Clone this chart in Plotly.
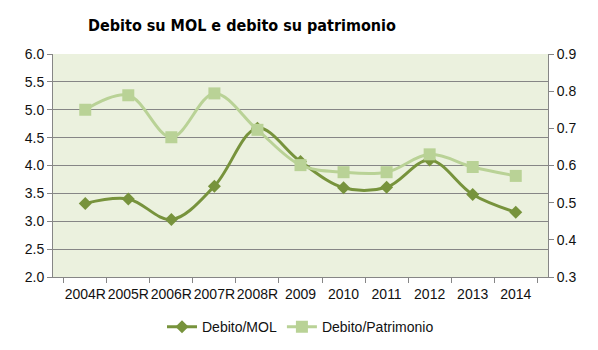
import plotly.graph_objects as go

# Anni e indicatori
anni = ["2004R", "2005R", "2006R", "2007R", "2008R", "2009", "2010", "2011", "2012", "2013", "2014"]
debito_mol = [3.32, 3.40, 3.03, 3.63, 4.67, 4.07, 3.60, 3.61, 4.10, 3.48, 3.16]
debito_patrimonio = [0.750, 0.789, 0.676, 0.794, 0.696, 0.601, 0.582, 0.582, 0.630, 0.596, 0.572]

left_ticks = [2.0, 2.5, 3.0, 3.5, 4.0, 4.5, 5.0, 5.5, 6.0]
right_ticks = [0.3, 0.4, 0.5, 0.6, 0.7, 0.8, 0.9]

DARK = "#77933C"
LIGHT = "#B9D296"
AXIS = "#868686"
FONT = "Liberation Sans, Arial, sans-serif"

fig = go.Figure()
fig.add_trace(go.Scatter(
    x=anni, y=debito_mol, name="Debito/MOL",
    mode="lines+markers",
    line=dict(color=DARK, width=3, shape="spline", smoothing=1),
    marker=dict(symbol="diamond", size=10, color=DARK),
    yaxis="y",
))
fig.add_trace(go.Scatter(
    x=anni, y=debito_patrimonio, name="Debito/Patrimonio",
    mode="lines+markers",
    line=dict(color=LIGHT, width=3, shape="spline", smoothing=1),
    marker=dict(symbol="square", size=12, color=LIGHT),
    yaxis="y2",
))

fig.update_layout(
    width=598, height=350,
    margin=dict(l=53, r=50, t=54, b=73, autoexpand=False),
    paper_bgcolor="white",
    plot_bgcolor="#EBF1DE",
    font=dict(family=FONT, size=14, color="#111"),
    title=dict(
        text="<b>Debito su MOL e debito su patrimonio</b>",
        x=242 / 598, xanchor="center", y=1 - 25 / 350, yanchor="middle",
        font=dict(family="DejaVu Sans Condensed, " + FONT, size=16, color="#000"),
    ),
    xaxis=dict(
        type="category", categoryorder="array", categoryarray=anni,
        showgrid=False, showline=True, linecolor=AXIS, linewidth=1,
        ticks="outside", tickson="boundaries", ticklen=5, tickcolor=AXIS,
        tickangle=0, tickfont=dict(size=14), ticklabelstandoff=4, zeroline=False,
    ),
    yaxis=dict(
        range=[2.0, 6.0], tickvals=left_ticks, ticktext=[f"{v:.1f}" for v in left_ticks],
        showgrid=True, gridcolor=AXIS, gridwidth=1,
        showline=True, linecolor=AXIS, ticks="outside", ticklen=5, tickcolor=AXIS,
        zeroline=False,
    ),
    yaxis2=dict(
        range=[0.3, 0.9], tickvals=right_ticks, ticktext=[f"{v:.1f}" for v in right_ticks],
        overlaying="y", side="right", showgrid=False,
        showline=True, linecolor=AXIS, ticks="outside", ticklen=5, tickcolor=AXIS,
        zeroline=False,
    ),
    legend=dict(
        orientation="h", x=0.5, xanchor="center", y=-0.225, yanchor="middle",
        font=dict(size=14), bgcolor="rgba(0,0,0,0)", itemwidth=30,
    ),
    showlegend=True,
)

fig.write_html("out.html")
